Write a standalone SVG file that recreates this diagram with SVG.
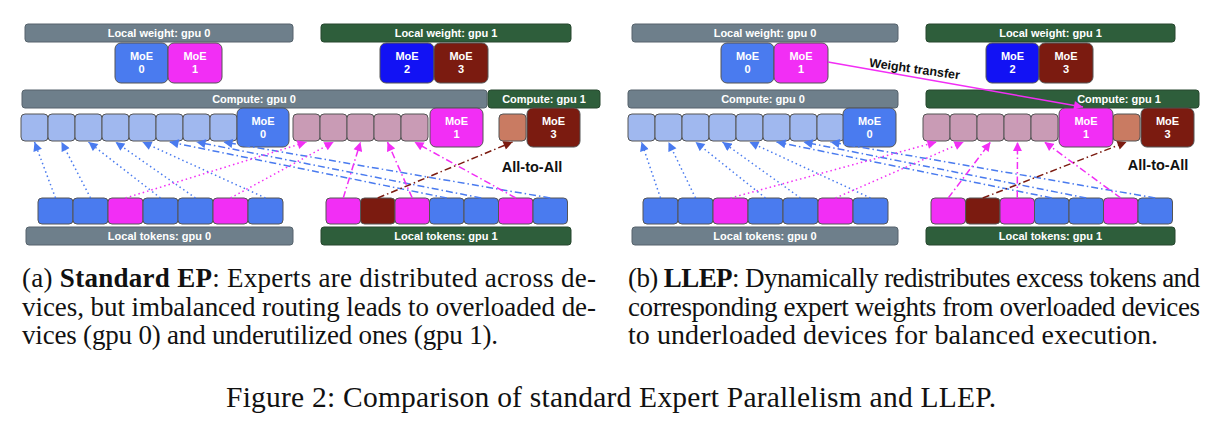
<svg xmlns="http://www.w3.org/2000/svg" width="1222" height="431" viewBox="0 0 1222 431">
<style>
.bg{fill:#6e7f8b;stroke:#56636c;stroke-width:1}
.bn{fill:#2e5e3b;stroke:#26472e;stroke-width:1}
.bx{stroke:#555;stroke-width:1}
.m0{fill:#4a7bef}.m1{fill:#f22ef5}.m2{fill:#1212f4}.m3{fill:#7b1b10}
.sb{fill:#a0b8ef}.sp{fill:#c99bb5}.ss{fill:#c97b62}
.lb{font-family:"Liberation Sans",Arial,sans-serif;font-weight:bold;font-size:11px;fill:#fff;text-anchor:middle}
.a2a{font-family:"Liberation Sans",Arial,sans-serif;font-weight:bold;font-size:14.5px;fill:#111;text-anchor:middle}
.cap{font-family:"Liberation Serif","Times New Roman",serif;font-size:27px;fill:#111}
.c{fill:none;stroke-width:1.5}
.dot{stroke-dasharray:1.5 3}
.dd{stroke-dasharray:7 3 1.5 3}
.cb{stroke:#4a7bef}.cm{stroke:#f22ef5}.cr{stroke:#7b1b10}
</style>
<defs>
<marker id="ab" viewBox="0 0 10 10" refX="10" refY="5" markerWidth="10" markerHeight="9" markerUnits="userSpaceOnUse" orient="auto"><path d="M0,0L10,5L0,10z" fill="#4a7bef"/></marker>
<marker id="am" viewBox="0 0 10 10" refX="10" refY="5" markerWidth="10" markerHeight="9" markerUnits="userSpaceOnUse" orient="auto"><path d="M0,0L10,5L0,10z" fill="#f22ef5"/></marker>
<marker id="ar" viewBox="0 0 10 10" refX="10" refY="5" markerWidth="10" markerHeight="9" markerUnits="userSpaceOnUse" orient="auto"><path d="M0,0L10,5L0,10z" fill="#7b1b10"/></marker>
</defs>

<!-- LEFT PANEL -->
<g id="L-weight-gpu0"><rect class="bg" x="25" y="24" width="268" height="18" rx="3"/><text class="lb" x="159" y="37">Local weight: gpu 0</text></g>
<g id="L-weight-gpu1"><rect class="bn" x="321" y="24" width="250" height="18" rx="3"/><text class="lb" x="446" y="37">Local weight: gpu 1</text></g>
<g id="L-w-moe0"><rect class="bx m0" x="115" y="43" width="53" height="40" rx="6"/><text class="lb" x="141.5" y="60">MoE</text><text class="lb" x="141.5" y="73">0</text></g>
<g id="L-w-moe1"><rect class="bx m1" x="168" y="43" width="54" height="40" rx="6"/><text class="lb" x="195" y="60">MoE</text><text class="lb" x="195" y="73">1</text></g>
<g id="L-w-moe2"><rect class="bx m2" x="380" y="43" width="54" height="40" rx="6"/><text class="lb" x="407" y="60">MoE</text><text class="lb" x="407" y="73">2</text></g>
<g id="L-w-moe3"><rect class="bx m3" x="434" y="43" width="54" height="40" rx="6"/><text class="lb" x="461" y="60">MoE</text><text class="lb" x="461" y="73">3</text></g>

<g id="L-compute-gpu0"><rect class="bg" x="22" y="90" width="465" height="18" rx="3"/><text class="lb" x="254" y="103">Compute: gpu 0</text></g>
<g id="L-compute-gpu1"><rect class="bn" x="488" y="90" width="112" height="18" rx="3"/><text class="lb" x="544" y="103">Compute: gpu 1</text></g>

<g id="L-compute-slots">
<rect class="bx sb" x="21" y="114" width="27" height="27" rx="4"/>
<rect class="bx sb" x="48" y="114" width="27" height="27" rx="4"/>
<rect class="bx sb" x="75" y="114" width="27" height="27" rx="4"/>
<rect class="bx sb" x="102" y="114" width="27" height="27" rx="4"/>
<rect class="bx sb" x="129" y="114" width="27" height="27" rx="4"/>
<rect class="bx sb" x="156" y="114" width="27" height="27" rx="4"/>
<rect class="bx sb" x="183" y="114" width="27" height="27" rx="4"/>
<rect class="bx sb" x="210" y="114" width="27" height="27" rx="4"/>
<rect class="bx sp" x="293" y="114" width="27" height="27" rx="4"/>
<rect class="bx sp" x="320" y="114" width="27" height="27" rx="4"/>
<rect class="bx sp" x="347" y="114" width="27" height="27" rx="4"/>
<rect class="bx sp" x="374" y="114" width="27" height="27" rx="4"/>
<rect class="bx sp" x="401" y="114" width="27" height="27" rx="4"/>
<rect class="bx ss" x="499" y="114" width="27" height="27" rx="4"/>
</g>
<g id="L-c-moe0"><rect class="bx m0" x="237" y="108" width="52" height="39" rx="6"/><text class="lb" x="263" y="125">MoE</text><text class="lb" x="263" y="138">0</text></g>
<g id="L-c-moe1"><rect class="bx m1" x="430" y="108" width="53" height="39" rx="6"/><text class="lb" x="456.5" y="125">MoE</text><text class="lb" x="456.5" y="138">1</text></g>
<g id="L-c-moe3"><rect class="bx m3" x="527" y="108" width="53" height="39" rx="6"/><text class="lb" x="553.5" y="125">MoE</text><text class="lb" x="553.5" y="138">3</text></g>

<g id="L-tokens-gpu0">
<rect class="bx m0" x="38" y="198" width="35" height="26" rx="4"/>
<rect class="bx m0" x="73" y="198" width="35" height="26" rx="4"/>
<rect class="bx m1" x="108" y="198" width="35" height="26" rx="4"/>
<rect class="bx m0" x="143" y="198" width="35" height="26" rx="4"/>
<rect class="bx m0" x="178" y="198" width="35" height="26" rx="4"/>
<rect class="bx m1" x="213" y="198" width="35" height="26" rx="4"/>
<rect class="bx m0" x="248" y="198" width="35" height="26" rx="4"/>
<rect class="bg" x="26" y="227" width="267" height="18" rx="3"/><text class="lb" x="159.5" y="240">Local tokens: gpu 0</text>
</g>
<g id="L-tokens-gpu1">
<rect class="bx m1" x="326" y="198" width="34.5" height="26" rx="4"/>
<rect class="bx m3" x="360.5" y="198" width="34.5" height="26" rx="4"/>
<rect class="bx m1" x="395" y="198" width="34.5" height="26" rx="4"/>
<rect class="bx m0" x="429.5" y="198" width="34.5" height="26" rx="4"/>
<rect class="bx m0" x="464" y="198" width="34.5" height="26" rx="4"/>
<rect class="bx m1" x="498.5" y="198" width="34.5" height="26" rx="4"/>
<rect class="bx m0" x="533" y="198" width="34.5" height="26" rx="4"/>
<rect class="bn" x="321" y="227" width="250" height="18" rx="3"/><text class="lb" x="446" y="240">Local tokens: gpu 1</text>
</g>
<g id="L-all-to-all"><text class="a2a" x="532" y="172">All-to-All</text></g>

<!-- RIGHT PANEL -->
<g id="R-weight-gpu0"><rect class="bg" x="632" y="24" width="266" height="18" rx="3"/><text class="lb" x="765" y="37">Local weight: gpu 0</text></g>
<g id="R-weight-gpu1"><rect class="bn" x="926" y="24" width="249" height="18" rx="3"/><text class="lb" x="1050.5" y="37">Local weight: gpu 1</text></g>
<g id="R-w-moe0"><rect class="bx m0" x="721" y="43" width="53" height="40" rx="6"/><text class="lb" x="747.5" y="60">MoE</text><text class="lb" x="747.5" y="73">0</text></g>
<g id="R-w-moe1"><rect class="bx m1" x="774" y="43" width="54" height="40" rx="6"/><text class="lb" x="801" y="60">MoE</text><text class="lb" x="801" y="73">1</text></g>
<g id="R-w-moe2"><rect class="bx m2" x="986" y="43" width="53" height="40" rx="6"/><text class="lb" x="1012.5" y="60">MoE</text><text class="lb" x="1012.5" y="73">2</text></g>
<g id="R-w-moe3"><rect class="bx m3" x="1039" y="43" width="54" height="40" rx="6"/><text class="lb" x="1066" y="60">MoE</text><text class="lb" x="1066" y="73">3</text></g>

<g id="R-compute-gpu0"><rect class="bg" x="628" y="90" width="270" height="18" rx="3"/><text class="lb" x="763" y="103">Compute: gpu 0</text></g>
<g id="R-compute-gpu1"><rect class="bn" x="926" y="90" width="273" height="18" rx="3"/><text class="lb" x="1119" y="103">Compute: gpu 1</text></g>

<g id="R-compute-slots">
<rect class="bx sb" x="628" y="114" width="27" height="27" rx="4"/>
<rect class="bx sb" x="655" y="114" width="27" height="27" rx="4"/>
<rect class="bx sb" x="682" y="114" width="27" height="27" rx="4"/>
<rect class="bx sb" x="709" y="114" width="27" height="27" rx="4"/>
<rect class="bx sb" x="736" y="114" width="27" height="27" rx="4"/>
<rect class="bx sb" x="763" y="114" width="27" height="27" rx="4"/>
<rect class="bx sb" x="790" y="114" width="27" height="27" rx="4"/>
<rect class="bx sb" x="817" y="114" width="27" height="27" rx="4"/>
<rect class="bx sp" x="923" y="114" width="27" height="27" rx="4"/>
<rect class="bx sp" x="950" y="114" width="27" height="27" rx="4"/>
<rect class="bx sp" x="977" y="114" width="27" height="27" rx="4"/>
<rect class="bx sp" x="1004" y="114" width="27" height="27" rx="4"/>
<rect class="bx sp" x="1031" y="114" width="27" height="27" rx="4"/>
<rect class="bx ss" x="1113" y="114" width="27" height="27" rx="4"/>
</g>
<g id="R-c-moe0"><rect class="bx m0" x="843" y="108" width="53" height="39" rx="6"/><text class="lb" x="869.5" y="125">MoE</text><text class="lb" x="869.5" y="138">0</text></g>
<g id="R-c-moe1"><rect class="bx m1" x="1059" y="108" width="54" height="39" rx="6"/><text class="lb" x="1086" y="125">MoE</text><text class="lb" x="1086" y="138">1</text></g>
<g id="R-c-moe3"><rect class="bx m3" x="1141" y="108" width="53" height="39" rx="6"/><text class="lb" x="1167.5" y="125">MoE</text><text class="lb" x="1167.5" y="138">3</text></g>

<g id="R-tokens-gpu0">
<rect class="bx m0" x="643" y="198" width="35" height="26" rx="4"/>
<rect class="bx m0" x="678" y="198" width="35" height="26" rx="4"/>
<rect class="bx m1" x="713" y="198" width="35" height="26" rx="4"/>
<rect class="bx m0" x="748" y="198" width="35" height="26" rx="4"/>
<rect class="bx m0" x="783" y="198" width="35" height="26" rx="4"/>
<rect class="bx m1" x="818" y="198" width="35" height="26" rx="4"/>
<rect class="bx m0" x="853" y="198" width="35" height="26" rx="4"/>
<rect class="bg" x="632" y="227" width="266" height="18" rx="3"/><text class="lb" x="765" y="240">Local tokens: gpu 0</text>
</g>
<g id="R-tokens-gpu1">
<rect class="bx m1" x="931" y="198" width="34.5" height="26" rx="4"/>
<rect class="bx m3" x="965.5" y="198" width="34.5" height="26" rx="4"/>
<rect class="bx m1" x="1000" y="198" width="34.5" height="26" rx="4"/>
<rect class="bx m0" x="1034.5" y="198" width="34.5" height="26" rx="4"/>
<rect class="bx m0" x="1069" y="198" width="34.5" height="26" rx="4"/>
<rect class="bx m1" x="1103.5" y="198" width="34.5" height="26" rx="4"/>
<rect class="bx m0" x="1138" y="198" width="34.5" height="26" rx="4"/>
<rect class="bn" x="926" y="227" width="249" height="18" rx="3"/><text class="lb" x="1050.5" y="240">Local tokens: gpu 1</text>
</g>
<g id="R-all-to-all"><text class="a2a" x="1158" y="170">All-to-All</text></g>

<!-- CONNECTORS -->
<g id="connectors">
<g class="c dot cb" marker-end="url(#ab)">
<line x1="55.5" y1="198" x2="34.5" y2="142"/>
<line x1="90.5" y1="198" x2="61.5" y2="142"/>
<line x1="160.5" y1="198" x2="88.5" y2="142"/>
<line x1="195.5" y1="198" x2="115.5" y2="142"/>
<line x1="265.5" y1="198" x2="142.5" y2="142"/>
<line x1="660.5" y1="198" x2="641.5" y2="142"/>
<line x1="695.5" y1="198" x2="668.5" y2="142"/>
<line x1="765.5" y1="198" x2="695.5" y2="142"/>
<line x1="800.5" y1="198" x2="722.5" y2="142"/>
<line x1="870.5" y1="198" x2="749.5" y2="142"/>
</g>
<g class="c dd cb" marker-end="url(#ab)">
<line x1="446.75" y1="198" x2="169.5" y2="142"/>
<line x1="481.25" y1="198" x2="196.5" y2="142"/>
<line x1="550.25" y1="198" x2="223.5" y2="142"/>
<line x1="1051.75" y1="198" x2="776.5" y2="142"/>
<line x1="1086.25" y1="198" x2="803.5" y2="142"/>
<line x1="1155.25" y1="198" x2="830.5" y2="142"/>
</g>
<g class="c dot cm" marker-end="url(#am)">
<line x1="125.5" y1="198" x2="306.5" y2="142"/>
<line x1="230.5" y1="198" x2="333.5" y2="142"/>
<line x1="730.5" y1="198" x2="936.5" y2="142"/>
<line x1="835.5" y1="198" x2="963.5" y2="142"/>
</g>
<g class="c dd cm" marker-end="url(#am)">
<line x1="343.25" y1="198" x2="360.5" y2="142"/>
<line x1="412.25" y1="198" x2="387.5" y2="142"/>
<line x1="515.75" y1="198" x2="414.5" y2="142"/>
<line x1="948.25" y1="198" x2="990.5" y2="142"/>
<line x1="1017.25" y1="198" x2="1017.5" y2="142"/>
<line x1="1120.75" y1="198" x2="1044.5" y2="142"/>
</g>
<g class="c dd cr" marker-end="url(#ar)">
<line x1="377.75" y1="198" x2="512.5" y2="142"/>
<line x1="982.75" y1="198" x2="1126.5" y2="142"/>
</g>
<line class="c cm" x1="828" y1="62" x2="1083" y2="107" marker-end="url(#am)"/>
<text x="914" y="73" transform="rotate(8 914 73)" font-family="Liberation Sans, Arial, sans-serif" font-weight="bold" font-size="12.5" fill="#111" text-anchor="middle">Weight transfer</text>
</g>

<!-- CAPTIONS -->
<g id="captions">
<text class="cap" x="22" y="287" textLength="574">(a) <tspan font-weight="bold">Standard EP</tspan>: Experts are distributed across de-</text>
<text class="cap" x="22" y="316" textLength="574">vices, but imbalanced routing leads to overloaded de-</text>
<text class="cap" x="22" y="344" textLength="476">vices (gpu 0) and underutilized ones (gpu 1).</text>
<text class="cap" x="628" y="287" textLength="572">(b) <tspan font-weight="bold">LLEP</tspan>: Dynamically redistributes excess tokens and</text>
<text class="cap" x="628" y="316" textLength="572">corresponding expert weights from overloaded devices</text>
<text class="cap" x="628" y="344" style="font-size:28px" textLength="530">to underloaded devices for balanced execution.</text>
<text class="cap" x="226" y="407" style="font-size:29.5px" textLength="770">Figure 2: Comparison of standard Expert Parallelism and LLEP.</text>
</g>
</svg>
